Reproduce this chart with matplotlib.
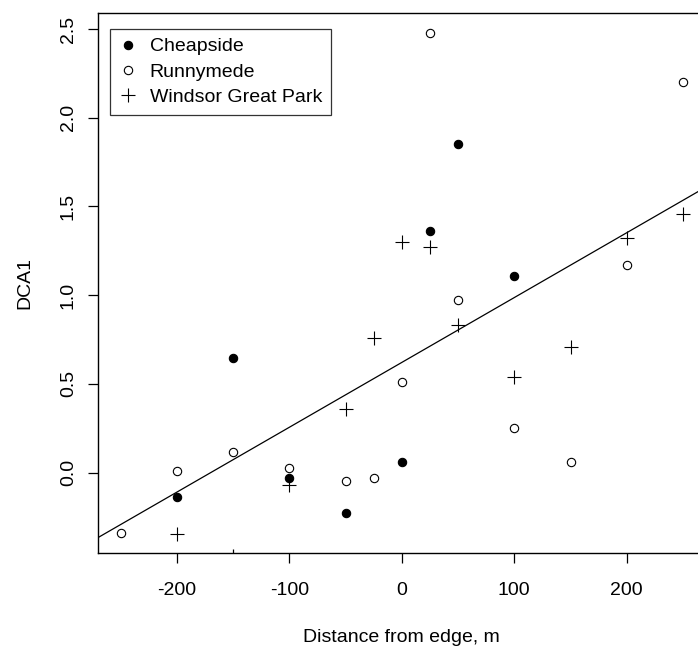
import numpy as np
import matplotlib
matplotlib.use("Agg")
import matplotlib.pyplot as plt
from matplotlib.ticker import FixedLocator

plt.rcParams["font.family"] = ["Liberation Sans", "DejaVu Sans"]

# Distance from edge (m) and DCA1 scores per site
cheap_x = [-200, -150, -100, -50, 0, 25, 50, 100]
cheap_y = [-0.14, 0.646, -0.03, -0.23, 0.062, 1.36, 1.85, 1.107]

runny_x = [-250, -200, -150, -100, -50, -25, 0, 25, 50, 100, 150, 200, 250]
runny_y = [-0.34, 0.01, 0.118, 0.028, -0.045, -0.03, 0.51, 2.48, 0.97, 0.25, 0.062, 1.17, 2.20]

wind_x = [-200, -100, -50, -25, 0, 25, 50, 100, 150, 200, 250]
wind_y = [-0.345, -0.07, 0.36, 0.76, 1.30, 1.27, 0.83, 0.54, 0.71, 1.32, 1.455]

x_ticks = [-200, -100, 0, 100, 200]
y_ticks = [0.0, 0.5, 1.0, 1.5, 2.0, 2.5]

W, H = 698, 646
fig = plt.figure(figsize=(W / 100, H / 100), dpi=100)
# axes box runs past the right edge of the figure (cropped like the original)
ax = fig.add_axes([98 / W, 93 / H, 607.5 / W, 540 / H])

ax.plot(cheap_x, cheap_y, "o", ms=6, mfc="black", mec="black", mew=0.8,
        ls="none", label="Cheapside")
ax.plot(runny_x, runny_y, "o", ms=6, mfc="white", mec="black", mew=0.8,
        ls="none", label="Runnymede")
ax.plot(wind_x, wind_y, "+", ms=10, mec="black", mew=0.8,
        ls="none", label="Windsor Great Park")

# overall linear fit
all_x = np.array(cheap_x + runny_x + wind_x, dtype=float)
all_y = np.array(cheap_y + runny_y + wind_y, dtype=float)
pendiente, corte = np.polyfit(all_x, all_y, 1)
ax.axline((0, corte), slope=pendiente, color="black", lw=0.9)

ax.set_xlim(-270, 270)
ax.set_ylim(-0.453, 2.59)

ax.xaxis.set_major_locator(FixedLocator(x_ticks))
ax.set_xticklabels([str(v) for v in x_ticks])
ax.xaxis.set_minor_locator(FixedLocator([-150]))
ax.yaxis.set_major_locator(FixedLocator(y_ticks))
ax.set_yticklabels([f"{v:.1f}" for v in y_ticks], rotation=90, va="center")

ax.tick_params(axis="both", which="major", length=7.2, width=0.9,
               labelsize=14, direction="out")
ax.tick_params(axis="x", which="major", pad=14)
ax.tick_params(axis="y", which="major", pad=8)
ax.tick_params(axis="x", which="minor", length=3, width=0.9, direction="in")

for s in ax.spines.values():
    s.set_linewidth(1.0)

ax.set_xlabel("Distance from edge, m", fontsize=14, labelpad=21)
ax.set_ylabel("DCA1", fontsize=14, labelpad=19)

leg = ax.legend(loc="upper left", bbox_to_anchor=(12 / 607.5, 1 - 16 / 540),
                borderaxespad=0, fontsize=14, frameon=True, fancybox=False,
                handlelength=1.0, handletextpad=0.6, labelspacing=0.4,
                borderpad=0.45, edgecolor="black")
leg.get_frame().set_linewidth(0.9)

fig.savefig("out.png", dpi=100)
